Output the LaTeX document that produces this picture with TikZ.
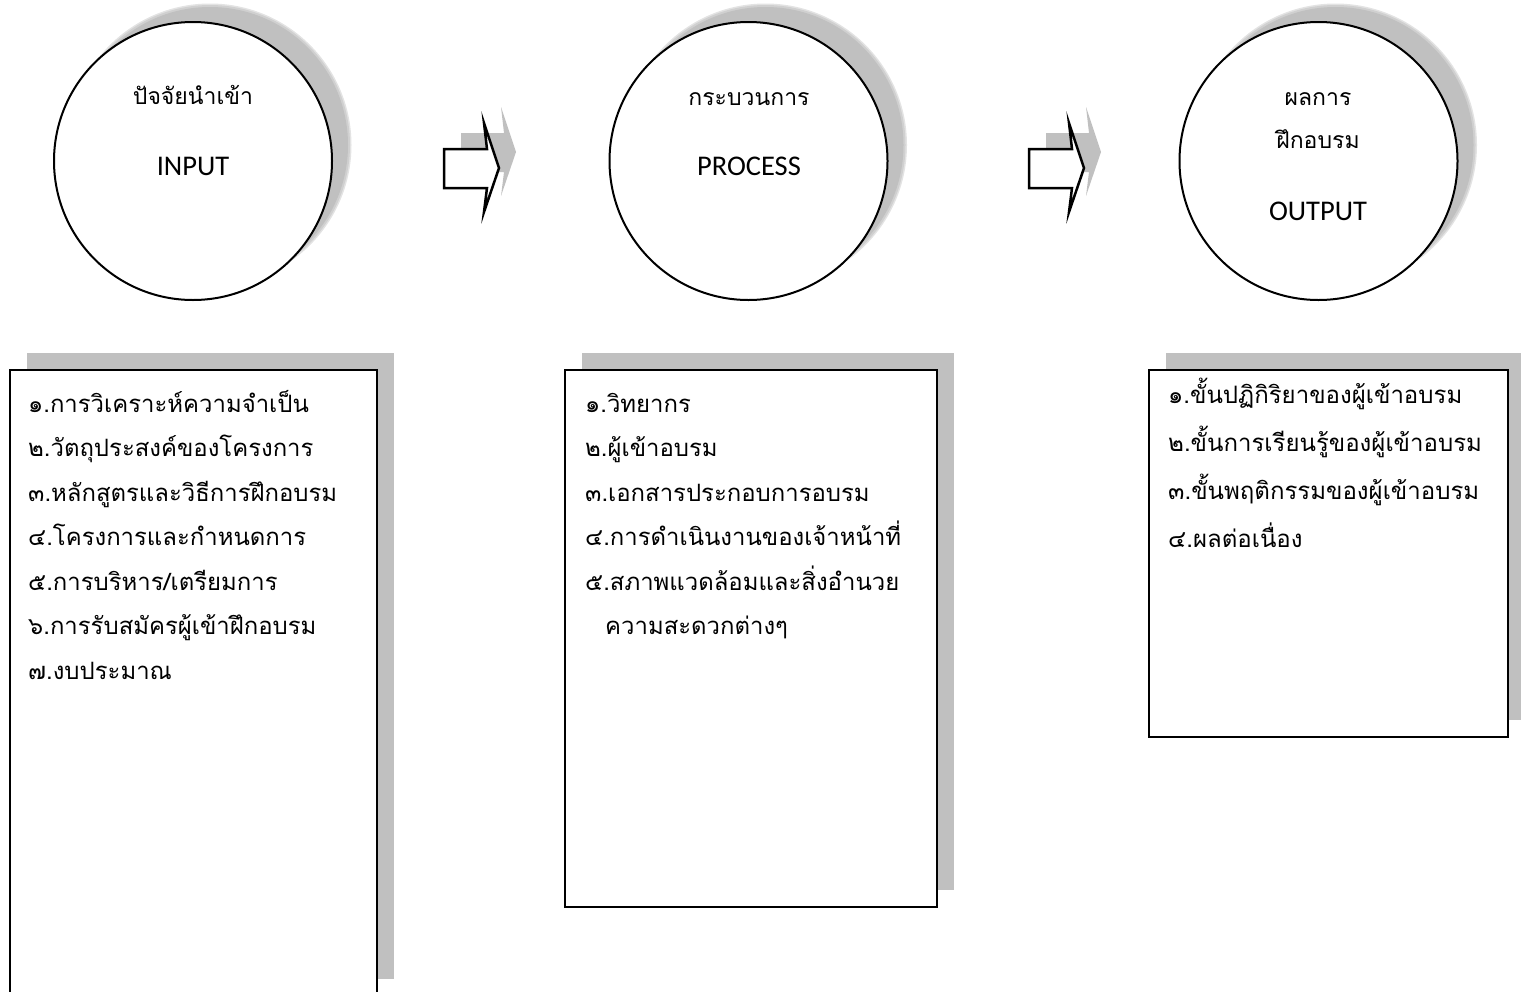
\documentclass[tikz,border=0pt]{standalone}
\usepackage{fontspec}
\newfontfamily\thaifont[Script=Thai]{Loma}
\newfontfamily\calfont{Carlito}
\usetikzlibrary{calc,backgrounds}
\definecolor{shadowgray}{RGB}{192,192,192}
\begin{document}
\begin{tikzpicture}[x=1pt,y=-1pt,
  ring/.style={circle,draw,line width=2pt,fill=white,minimum size=278pt,inner sep=0pt,outer sep=0pt},
  boxnode/.style={rectangle,draw,line width=2.6pt,fill=white,anchor=north west,inner sep=0pt,outer sep=0pt},
  thaiC/.style={anchor=base,inner sep=0pt,font=\thaifont\fontsize{23}{27}\selectfont},
  latC/.style={anchor=base,inner sep=0pt,font=\calfont\fontsize{28.5}{32}\selectfont},
  itemA/.style={anchor=base west,inner sep=0pt,font=\thaifont\fontsize{23.9}{28}\selectfont},
  itemB/.style={anchor=base west,inner sep=0pt,font=\thaifont\fontsize{24}{28}\selectfont},
  blockarr/.pic={
    \fill[shadowgray] (17,-16) -- ++(43,0) -- ++(-3,-26) -- ++(15,45) -- ++(-15,44) -- ++(3,-24) -- ++(-43,0) -- cycle;
    \draw[line width=2.5pt,fill=white,line join=miter] (0,0) -- ++(43,0) -- ++(-3,-26) -- ++(15,45) -- ++(-15,44) -- ++(3,-24) -- ++(-43,0) -- cycle;
  }
]
\useasboundingbox (0,0) rectangle (1521,991);
\clip (0,0) rectangle (1521,991);

% circles
\node[ring] (c1) at (193,161) {};
\node[ring] (c2) at (748.5,161) {};
\node[ring] (c3) at (1318.5,161) {};

\node[thaiC] (t1a) at (193,104) {ปัจจัยนำเข้า};
\node[latC]  (t1b) at (193,175) {INPUT};
\node[thaiC] (t2a) at (749,105) {กระบวนการ};
\node[latC]  (t2b) at (749,175) {PROCESS};
\node[thaiC] (t3a) at (1318,105) {ผลการ};
\node[thaiC] (t3b) at (1318,148) {ฝึกอบรม};
\node[latC]  (t3c) at (1318,220) {OUTPUT};

% block arrows
\pic (arr1) at (444,149) {blockarr};
\pic (arr2) at (1029,149) {blockarr};

% boxes
\node[boxnode,minimum width=367pt,minimum height=626pt] (b1) at (10,370) {};
\node[boxnode,minimum width=372pt,minimum height=537pt] (b2) at (565,370) {};
\node[boxnode,minimum width=359pt,minimum height=367pt] (b3) at (1149,370) {};

\node[itemA] (b1l1) at (28,412) {๑.การวิเคราะห์ความจำเป็น};
\node[itemA] (b1l2) at (28,456.5) {๒.วัตถุประสงค์ของโครงการ};
\node[itemA] (b1l3) at (28,501) {๓.หลักสูตรและวิธีการฝึกอบรม};
\node[itemA] (b1l4) at (28,545.5) {๔.โครงการและกำหนดการ};
\node[itemA] (b1l5) at (28,590) {๕.การบริหาร/เตรียมการ};
\node[itemA] (b1l6) at (28,634.5) {๖.การรับสมัครผู้เข้าฝึกอบรม};
\node[itemA] (b1l7) at (28,679) {๗.งบประมาณ};

\node[itemA] (b2l1) at (585,412) {๑.วิทยากร};
\node[itemA] (b2l2) at (585,456.5) {๒.ผู้เข้าอบรม};
\node[itemA] (b2l3) at (585,501) {๓.เอกสารประกอบการอบรม};
\node[itemA] (b2l4) at (585,545.5) {๔.การดำเนินงานของเจ้าหน้าที่};
\node[itemA] (b2l5) at (585,590) {๕.สภาพแวดล้อมและสิ่งอำนวย};
\node[itemA] (b2l6) at (605,634.5) {ความสะดวกต่างๆ};

\node[itemB] (b3l1) at (1168,403) {๑.ขั้นปฏิกิริยาของผู้เข้าอบรม};
\node[itemB] (b3l2) at (1168,451) {๒.ขั้นการเรียนรู้ของผู้เข้าอบรม};
\node[itemB] (b3l3) at (1168,499) {๓.ขั้นพฤติกรรมของผู้เข้าอบรม};
\node[itemB] (b3l4) at (1168,547) {๔.ผลต่อเนื่อง};

% shadows
\begin{pgfonlayer}{background}
  \foreach \c in {c1,c2,c3}{
    \fill[shadowgray!45] ($(\c.center)+(17,-16)$) circle[radius=141.5pt];
    \fill[shadowgray!75] ($(\c.center)+(17,-16)$) circle[radius=140pt];
    \fill[shadowgray] ($(\c.center)+(17,-16)$) circle[radius=138pt];
  }
  \foreach \b in {b1,b2,b3}{
    \fill[shadowgray] ($(\b.north west)+(17,-17)$) rectangle ($(\b.south east)+(17,-17)$);
  }
\end{pgfonlayer}
\end{tikzpicture}
\end{document}
